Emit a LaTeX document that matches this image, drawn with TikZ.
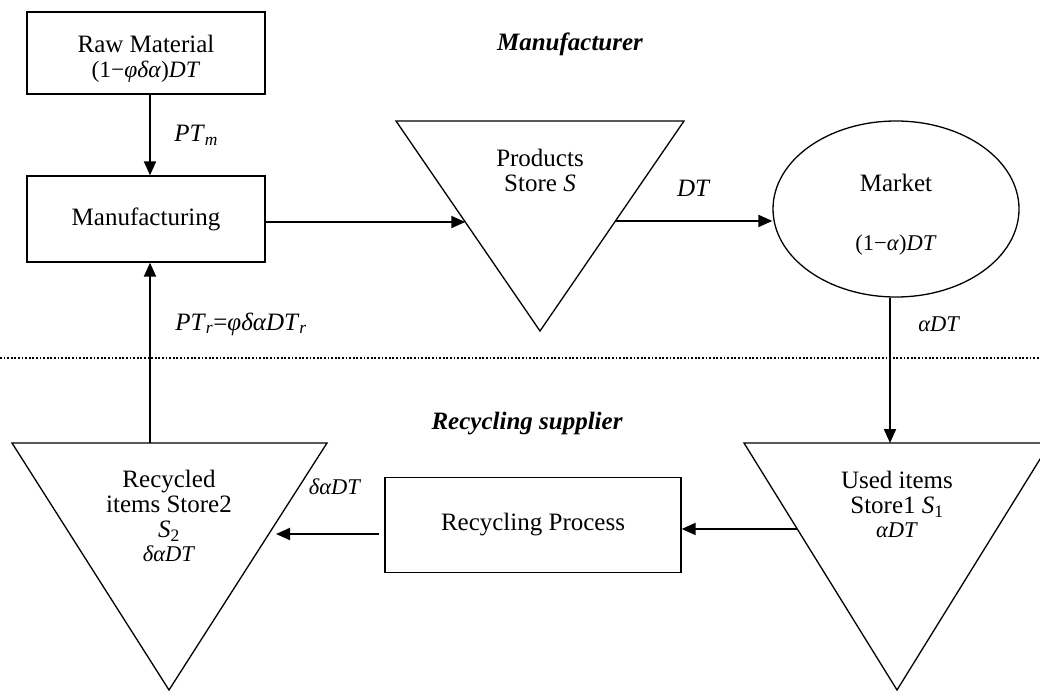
\documentclass[tikz,border=0pt]{standalone}
\usepackage{fontspec}
\setmainfont{Liberation Serif}
\usepackage{tikz}
\usetikzlibrary{arrows.meta,calc,shapes.geometric,positioning}

\begin{document}
\begin{tikzpicture}[x=1pt,y=-1pt,
   box/.style={draw,line width=1.3pt,inner sep=0pt},
   arr/.style={line width=2pt,-{Triangle[length=14pt,width=12pt]}},
   edge/.style={line width=1.3pt,line join=miter},
   big/.style={font=\fontsize{25}{25}\selectfont},
   small/.style={font=\fontsize{22.5}{24}\selectfont},
   head/.style={font=\fontsize{25}{25}\selectfont\bfseries\itshape}]

   \useasboundingbox (0,0) rectangle (1040,693);

   % manufacturer side
   \node[box,minimum width=238pt,minimum height=82pt] (raw) at (146,53) {};
   \node[big] (rawtxt) at (146,44) {Raw Material};
   \node[small,font=\fontsize{23.5}{24}\selectfont] (rawamt) at (146,72) {(1−\textit{φδα})\textit{DT}};

   \node[box,big,minimum width=238pt,minimum height=86pt] (mfg) at (146,219) {Manufacturing};

   \coordinate (p1) at (396,121); \coordinate (p2) at (684,121); \coordinate (p3) at (540,331);
   \draw[edge] (p1) -- (p2) -- (p3) -- cycle;
   \node[big,align=center] (prod) at (540,170) {Products\\Store \textit{S}};

   \node[draw,ellipse,line width=1.3pt,minimum width=246pt,minimum height=176pt,inner sep=0pt] (market) at (896,209) {};
   \node[big] (mkttxt) at (896,183) {Market};
   \node[small] (mktamt) at (896,245) {(1−\textit{α})\textit{DT}};

   \node[head] (mfr) at (570,44) {Manufacturer};

   % divider
   \coordinate (dl) at (0,358); \coordinate (dr) at (1040,358);
   \draw[line width=1.6pt,dash pattern=on 1.8pt off 1.8pt] (dl) -- (dr);

   % recycling side
   \node[head] (rsup) at (527,424) {Recycling supplier};

   \coordinate (r1) at (12,443); \coordinate (r2) at (327,443); \coordinate (r3) at (169,690);
   \draw[edge] (r1) -- (r2) -- (r3) -- cycle;
   \node[big,align=center] (rec) at (169,506) {Recycled\\items Store2\\\textit{S}\textsubscript{2}};
   \node[small] (recamt) at (169,554) {\textit{δαDT}};

   \coordinate (u1) at (744,443); \coordinate (u2) at (1050,443); \coordinate (u3) at (897,690);
   \draw[edge] (u1) -- (u2) -- (u3) -- cycle;
   \node[big,align=center] (used) at (897,494) {Used items\\Store1 \textit{S}\textsubscript{1}};
   \node[small] (usedamt) at (897,530) {\textit{αDT}};

   \node[box,big,minimum width=296pt,minimum height=95pt] (proc) at (533,525) {Recycling Process};

   % flows
   \coordinate (prodin) at ($(p1)!0.481!(p3)$);
   \coordinate (prodout) at ($(p2)!0.476!(p3)$);
   \coordinate (usedout) at ($(u1)!0.348!(u3)$);
   \coordinate (recin) at (276,534);

   \draw[arr] ([xshift=4pt]raw.south) -- ([xshift=4pt]mfg.north)
      node[midway,right=20pt,big] (ptm) {\textit{PT}\textsubscript{\textit{m}}};
   \draw[arr] (mfg.east |- prodin) -- (prodin);
   \draw[arr] (prodout) -- (prodout -| market.west)
      node[midway,above=20pt,big] (dt) {\textit{DT}};
   \draw[arr] ([xshift=-6pt]market.south) -- ([xshift=-6pt]market.south |- u1)
      node[pos=0.18,right=24pt,small] (adt) {\textit{αDT}};
   \draw[arr] (usedout) -- (usedout -| proc.east);
   \draw[arr] ([xshift=-5pt]proc.west |- recin) -- (recin);
   \node[small] (sdt) at (335,487) {\textit{δαDT}};
   \draw[arr] ([xshift=4pt]mfg.south |- r1) -- ([xshift=4pt]mfg.south)
      node[pos=0.66,right=21pt,big] (ptr) {\textit{PT}\textsubscript{\textit{r}}=\textit{φδαDT}\textsubscript{\textit{r}}};

\end{tikzpicture}
\end{document}
